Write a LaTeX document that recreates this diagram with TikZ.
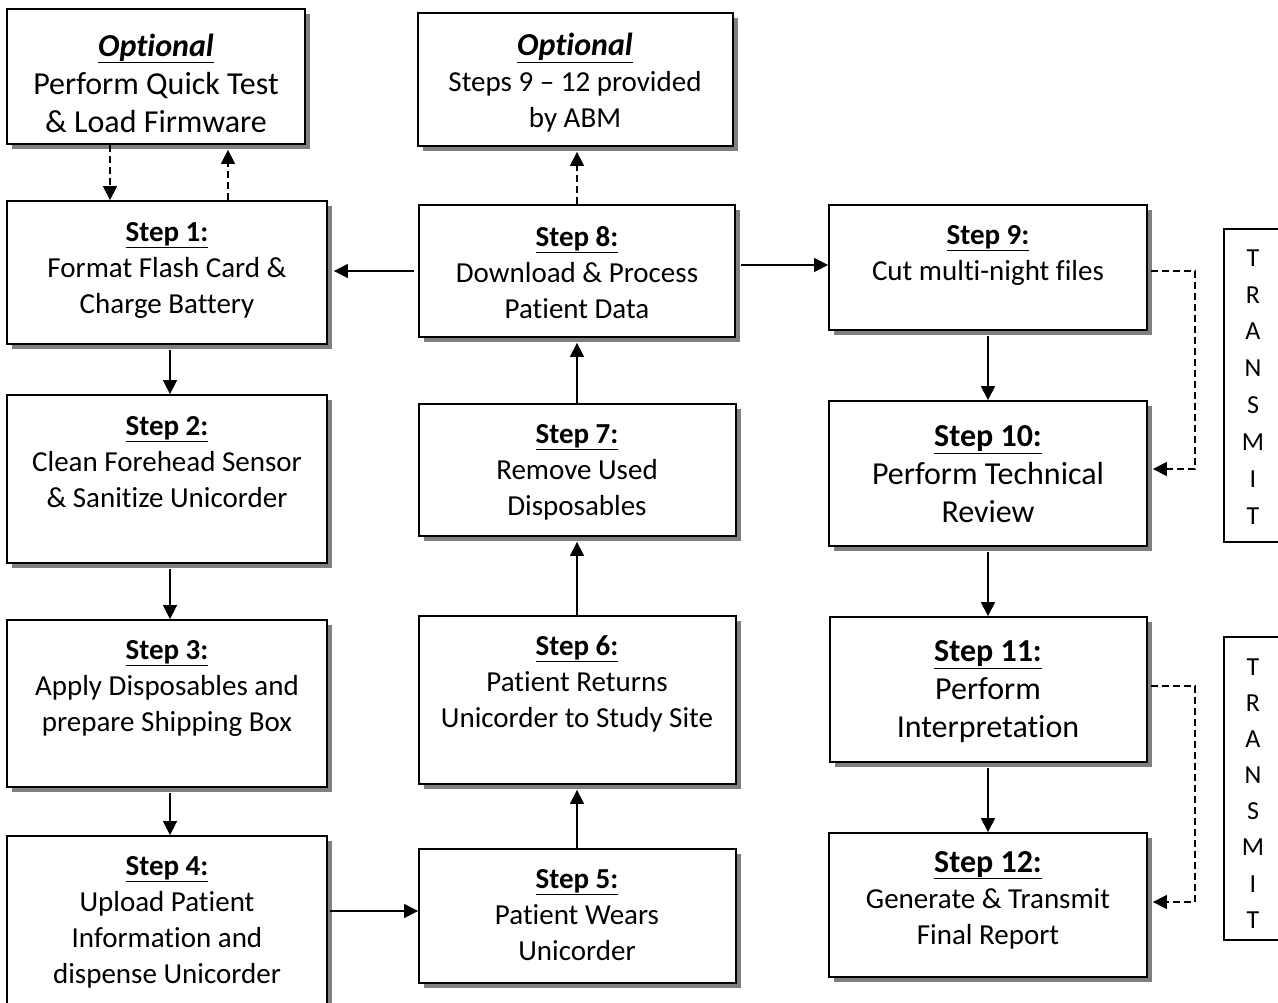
\documentclass[tikz,border=0pt]{standalone}
\usepackage{fontspec}
\setmainfont{Carlito}[Ligatures={NoCommon}]
\usetikzlibrary{arrows.meta,shadows,calc}
\begin{document}
\begin{tikzpicture}[x=1pt,y=-1pt,
  box/.style={draw, line width=1.8pt, fill=white, inner sep=0pt,
    drop shadow={shadow xshift=5pt, shadow yshift=-5pt, fill=black!50, opacity=1}},
  tbox/.style={draw, line width=1.3pt, inner sep=0pt, fill=white},
  txt/.style={align=center, inner sep=0pt, font=\fontsize{29}{36}\selectfont},
  txtL/.style={align=center, inner sep=0pt, font=\fontsize{32}{38}\selectfont},
  txtT/.style={align=center, inner sep=0pt},
  arr/.style={line width=1.5pt, -{Triangle[length=14pt,width=14pt]}},
  darr/.style={arr, dash pattern=on 7pt off 4pt},
]
\clip (0,0) rectangle (1278,1003);
\fill[white] (0,0) rectangle (1278,1003);

\newcommand\bx[5]{\node[box, minimum width=#4pt, minimum height=#5pt] (#1) at (#2,#3) {};}
\newcommand\ttl[1]{\underline{\textbf{#1}}}

% boxes
\bx{optL}{156}{76.5}{298}{135}
\bx{optM}{575.5}{79.5}{315}{133}
\bx{s1}{167}{272.5}{320}{143}
\bx{s2}{167}{479}{320}{168}
\bx{s3}{167}{703.5}{320}{167}
\bx{s4}{167}{924}{320}{176}
\bx{s5}{577.5}{916}{317}{134}
\bx{s6}{577.5}{700}{317}{168}
\bx{s7}{577.5}{470}{317}{132}
\bx{s8}{577}{271}{316}{132}
\bx{s9}{988}{267.5}{318}{125}
\bx{s10}{988}{473.5}{318}{145}
\bx{s11}{988.5}{689.5}{317}{145}
\bx{s12}{988}{905}{318}{144}
\node[tbox, minimum width=66pt, minimum height=313pt] (tr1) at (1257,385.5) {};
\node[tbox, minimum width=66pt, minimum height=303pt] (tr2) at (1257,788.5) {};

% texts
\node[txtL] (toptL) at (156,83) {\ttl{\textit{Optional}}\\Perform Quick Test\\\& Load Firmware};
\node[txt] (toptM) at (575,82.5) {{\fontsize{32}{36}\selectfont\ttl{\textit{Optional}}}\\Steps 9 – 12 provided\\by ABM};
\node[txt] (t1) at (167,270) {\ttl{Step 1:}\\Format Flash Card \&\\Charge Battery};
\node[txt] (t2) at (167,462) {\ttl{Step 2:}\\Clean Forehead Sensor\\\& Sanitize Unicorder};
\node[txt] (t3) at (167,688) {\ttl{Step 3:}\\Apply Disposables and\\prepare Shipping Box};
\node[txt] (t4) at (167,922) {\ttl{Step 4:}\\Upload Patient\\Information and\\dispense Unicorder};
\node[txt] (t5) at (577,915) {\ttl{Step 5:}\\Patient Wears\\Unicorder};
\node[txt] (t6) at (577,683.5) {\ttl{Step 6:}\\Patient Returns\\Unicorder to Study Site};
\node[txt] (t7) at (577,472) {\ttl{Step 7:}\\Remove Used\\Disposables};
\node[txt] (t8) at (577,272.5) {\ttl{Step 8:}\\Download \& Process\\Patient Data};
\node[txt] (t9) at (988,255.5) {\ttl{Step 9:}\\Cut multi-night files};
\node[txtL] (t10) at (988,474) {\ttl{Step 10:}\\Perform Technical\\Review};
\node[txtL] (t11) at (988,692) {\ttl{Step 11:}\\Perform\\Interpretation};
\node[txt] (t12) at (988,900) {{\fontsize{32}{36}\selectfont\ttl{Step 12:}}\\Generate \& Transmit\\Final Report};
\node[txtT, font=\fontsize{26}{36.9}\selectfont] (ttr1) at (1253,387) {T\\R\\A\\N\\S\\M\\I\\T};
\node[txtT, font=\fontsize{26}{36.1}\selectfont] (ttr2) at (1253,793.5) {T\\R\\A\\N\\S\\M\\I\\T};

% helper coordinates
\coordinate (x110) at (110,0);
\coordinate (x228) at (228,0);
\coordinate (x170) at (170,0);
\coordinate (x577) at (577,0);
\coordinate (x988) at (988,0);
\coordinate (x1195) at (1195,0);
\coordinate (y271) at (0,271);
\coordinate (y265) at (0,265);
\coordinate (y911) at (0,911);
\coordinate (y469) at (0,469);
\coordinate (y686) at (0,686);
\coordinate (y902) at (0,902);

% connectors
\draw[darr] (optL.south -| x110) -- (s1.north -| x110);
\draw[darr] (s1.north -| x228) -- ($(optL.south -| x228)+(0,5)$);
\draw[darr] (s8.north -| x577) -- ($(optM.south -| x577)+(0,5)$);
\draw[arr] ($(s8.west |- y271)+(-4,0)$) -- ($(s1.east |- y271)+(6,0)$);
\draw[arr] ($(s8.east |- y265)+(5,0)$) -- (s9.west |- y265);
\draw[arr] ($(s1.south -| x170)+(0,5)$) -- (s2.north -| x170);
\draw[arr] ($(s2.south -| x170)+(0,5)$) -- (s3.north -| x170);
\draw[arr] ($(s3.south -| x170)+(0,5)$) -- (s4.north -| x170);
\draw[arr] ($(s4.east |- y911)+(2,0)$) -- (s5.west |- y911);
\draw[arr] (s5.north -| x577) -- ($(s6.south -| x577)+(0,5)$);
\draw[arr] (s6.north -| x577) -- ($(s7.south -| x577)+(0,5)$);
\draw[arr] (s7.north -| x577) -- ($(s8.south -| x577)+(0,5)$);
\draw[arr] ($(s9.south -| x988)+(0,5)$) -- (s10.north -| x988);
\draw[arr] ($(s10.south -| x988)+(0,5)$) -- (s11.north -| x988);
\draw[arr] ($(s11.south -| x988)+(0,5)$) -- (s12.north -| x988);
\draw[darr] ($(s9.east |- y271)+(3,0)$) -- (x1195 |- y271) -- (x1195 |- y469) -- ($(s10.east |- y469)+(5,0)$);
\draw[darr] ($(s11.east |- y686)+(3,0)$) -- (x1195 |- y686) -- (x1195 |- y902) -- ($(s12.east |- y902)+(5,0)$);
\end{tikzpicture}
\end{document}
